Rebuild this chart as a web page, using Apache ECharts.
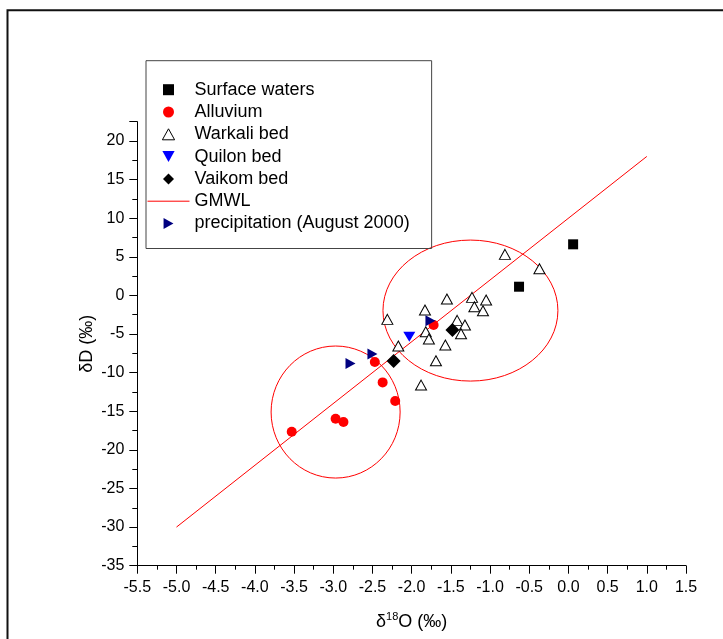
<!DOCTYPE html>
<html>
<head>
<meta charset="utf-8">
<script src="https://cdn.jsdelivr.net/npm/echarts@6/dist/echarts.min.js"></script>
<style>html,body{margin:0;padding:0;background:#fff;}#c{width:723px;height:639px;}</style>
</head>
<body>
<div id="c"></div>
<script>
// ---- data (δ18O, δD) ----
const surfaceWaters = [[0.06, 6.62], [-0.63, 1.13]];
const alluvium = [[-3.53, -17.66], [-2.97, -15.97], [-2.87, -16.40], [-2.37, -11.26], [-2.21, -13.68], [-2.47, -8.63], [-1.72, -3.83]];
const warkaliBed = [[-0.81, 5.32], [-0.37, 3.46], [-1.55, -0.47], [-1.23, -0.25], [-1.05, -0.60], [-1.20, -1.46], [-1.09, -1.98], [-1.83, -1.89], [-2.31, -3.10], [-1.42, -3.23], [-1.32, -3.83], [-1.37, -4.96], [-1.82, -4.70], [-1.78, -5.65], [-1.57, -6.42], [-2.17, -6.55], [-1.69, -8.46], [-1.88, -11.61]];
const quilonBed = [[-2.03, -5.35]];
const vaikomBed = [[-1.48, -4.48], [-2.23, -8.50]];
const precipitation = [[-2.78, -8.80], [-2.50, -7.59], [-1.76, -3.28]];
const gmwl = [[-5.0, -30.0], [1.0, 18.0]];
// ellipses: [centre δ18O, centre δD, half-width δ18O, half-height δD]
const ellipses = [[-1.25, -1.96, 1.116, 9.13], [-2.97, -15.10, 0.823, 8.55]];
const seriesNames = ['Surface waters', 'Alluvium', 'Warkali bed', 'Quilon bed', 'Vaikom bed', 'GMWL', 'precipitation (August 2000)'];

const FONT = 'Liberation Sans, Arial, sans-serif';
const chart = echarts.init(document.getElementById('c'), null, {renderer: 'canvas'});

const option = {
  animation: false,
  backgroundColor: '#fff',
  graphic: [{
    type: 'rect', z: -10, silent: true,
    shape: {x: 7.5, y: 10.3, width: 900, height: 900},
    style: {fill: 'none', stroke: '#111', lineWidth: 2}
  }],
  grid: {left: 137.3, right: 37, top: 121.7, bottom: 73.3, containLabel: false, outerBoundsMode: 'none'},
  legend: {
    orient: 'vertical', left: 146, top: 60.7,
    padding: [20, 22, 16, 1],
    itemWidth: 42, itemHeight: 11, itemGap: 4.3,
    symbolKeepAspect: true,
    borderColor: '#444', borderWidth: 1,
    textStyle: {fontFamily: FONT, fontSize: 18, color: '#000', lineHeight: 18},
    data: [
      {name: seriesNames[0], icon: 'path://M0,0H10V10H0Z'},
      {name: seriesNames[1], icon: 'circle'},
      {name: seriesNames[2], icon: 'path://M5,0L10,9L0,9Z', itemStyle: {color: '#fff', borderColor: '#000', borderWidth: 1}},
      {name: seriesNames[3], icon: 'path://M0,0L10,0L5,9Z'},
      {name: seriesNames[4], icon: 'path://M5,0L10,5L5,10L0,5Z'},
      {name: seriesNames[5], itemStyle: {color: 'rgba(0,0,0,0)', borderColor: 'rgba(0,0,0,0)', borderWidth: 0, opacity: 0},
        lineStyle: {color: '#ff0000', width: 1}},
      {name: seriesNames[6], icon: 'path://M0,0L9,5L0,10Z'}
    ]
  },
  xAxis: {
    type: 'value', min: -5.5, max: 1.5, interval: 0.5,
    name: '{a|δ}{s|18}{a|O (‰)}', nameLocation: 'middle', nameGap: 46, nameMoveOverlap: false,
    nameTextStyle: {rich: {
      a: {fontFamily: FONT, fontSize: 18, color: '#000'},
      s: {fontFamily: FONT, fontSize: 11, color: '#000', verticalAlign: 'top', padding: [0, 0, 9, 0]}
    }},
    axisLine: {onZero: false, lineStyle: {color: '#000', width: 1}},
    axisTick: {inside: false, length: 8, lineStyle: {color: '#000'}},
    minorTick: {show: true, splitNumber: 2, length: 4, lineStyle: {color: '#000'}},
    splitLine: {show: false},
    axisLabel: {fontFamily: FONT, fontSize: 16, color: '#000', margin: 14, formatter: v => v.toFixed(1)}
  },
  yAxis: {
    type: 'value', min: -35, max: 22.5, interval: 5,
    name: 'δD (‰)', nameLocation: 'middle', nameGap: 41, nameRotate: 90, nameMoveOverlap: false,
    nameTextStyle: {fontFamily: FONT, fontSize: 18, color: '#000'},
    axisLine: {onZero: false, lineStyle: {color: '#000', width: 1}},
    axisTick: {inside: false, length: 8, lineStyle: {color: '#000'}},
    minorTick: {show: true, splitNumber: 2, length: 5, lineStyle: {color: '#000'}},
    splitLine: {show: false},
    axisLabel: {fontFamily: FONT, fontSize: 16, color: '#000', margin: 13,
      formatter: v => (Math.abs(v % 5) < 1e-9 ? String(v) : '')}
  },
  series: [
    {
      name: 'ellipses', type: 'custom', silent: true, z: 1,
      data: ellipses,
      encode: {x: 0, y: 1},
      renderItem: function (params, api) {
        const c = api.coord([api.value(0), api.value(1)]);
        const s = api.size([api.value(2), api.value(3)]);
        return {type: 'ellipse', shape: {cx: c[0], cy: c[1], rx: s[0], ry: s[1]},
          style: {fill: 'none', stroke: '#ff0000', lineWidth: 1}};
      }
    },
    {name: seriesNames[5], type: 'line', data: gmwl, symbol: 'none', z: 2,
      lineStyle: {color: '#ff0000', width: 1}, itemStyle: {color: '#ff0000'}},
    {name: seriesNames[0], type: 'scatter', data: surfaceWaters, symbol: 'rect', symbolSize: 10, z: 3,
      itemStyle: {color: '#000', opacity: 1}},
    {name: seriesNames[2], type: 'scatter', data: warkaliBed, symbol: 'triangle', symbolSize: [11, 10], z: 3,
      itemStyle: {color: '#fff', borderColor: '#000', borderWidth: 1, opacity: 1}},
    {name: seriesNames[1], type: 'scatter', data: alluvium, symbol: 'circle', symbolSize: 10, z: 4,
      itemStyle: {color: '#ff0000', opacity: 1}},
    {name: seriesNames[3], type: 'scatter', data: quilonBed, symbol: 'path://M0,0L10,0L5,9Z', symbolSize: [12, 10], z: 4,
      itemStyle: {color: '#0000ff', opacity: 1}},
    {name: seriesNames[4], type: 'scatter', data: vaikomBed, symbol: 'diamond', symbolSize: 14, z: 4,
      itemStyle: {color: '#000', opacity: 1}},
    {name: seriesNames[6], type: 'scatter', data: precipitation, symbol: 'path://M0,0L9,5L0,10Z', symbolSize: [10, 11], z: 4,
      itemStyle: {color: '#000080', opacity: 1}}
  ]
};
chart.setOption(option);
</script>
</body>
</html>
